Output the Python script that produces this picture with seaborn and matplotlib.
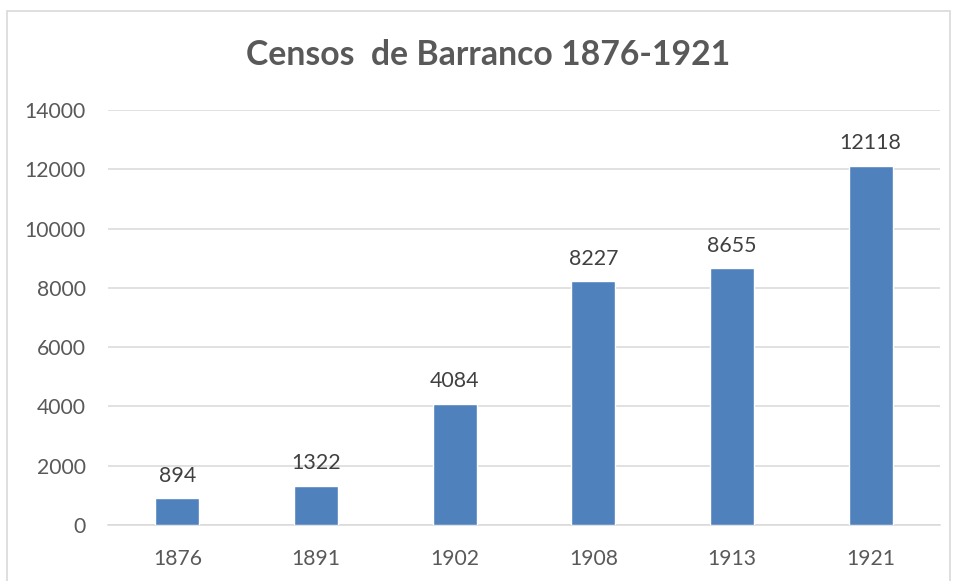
import matplotlib
matplotlib.use("Agg")
import matplotlib.pyplot as plt
import seaborn as sns
import pandas as pd
from matplotlib.patches import Rectangle

years = ["1876", "1891", "1902", "1908", "1913", "1921"]
population = [894, 1322, 4084, 8227, 8655, 12118]
title = "Censos  de Barranco 1876-1921"

sns.set_theme(style="white")
plt.rcParams['font.family'] = ['Lato', 'DejaVu Sans']

df = pd.DataFrame({"year": years, "pop": population})

fig = plt.figure(figsize=(9.55, 5.81), dpi=100)
ax = fig.add_axes([108/955, 1-525/581, (940-108)/955, (525-110)/581])

sns.barplot(data=df, x="year", y="pop", color="#4F81BD", saturation=1,
            width=0.317, ax=ax, zorder=3)

ax.set_ylim(0, 14000)
ax.set_yticks(range(0, 14001, 2000))
ax.yaxis.grid(True, color="#D9D9D9", linewidth=1.1, zorder=0)
ax.set_axisbelow(True)
for s in ["top", "right", "left"]:
    ax.spines[s].set_visible(False)
ax.spines["bottom"].set_color("#D9D9D9")
ax.spines["bottom"].set_linewidth(1.1)
ax.set_xlabel("")
ax.set_ylabel("")
ax.tick_params(axis="both", length=0, labelsize=15.2, labelcolor="#595959")
ax.tick_params(axis="x", pad=17)
ax.tick_params(axis="y", pad=16)

for c in ax.containers:
    ax.bar_label(c, labels=[str(v) for v in population], padding=9,
                 fontsize=15.4, color="#404040")

fig.text(488/955, 1-55/581, title, ha="center", va="center",
         fontsize=24.3, fontweight="bold", color="#595959")

fig.patches.append(Rectangle((7/955, -0.05), (950-7)/955, 1.05 - 11/581,
                             transform=fig.transFigure, fill=False,
                             edgecolor="#D9D9D9", linewidth=1.2))

fig.savefig("out.png", dpi=100)
